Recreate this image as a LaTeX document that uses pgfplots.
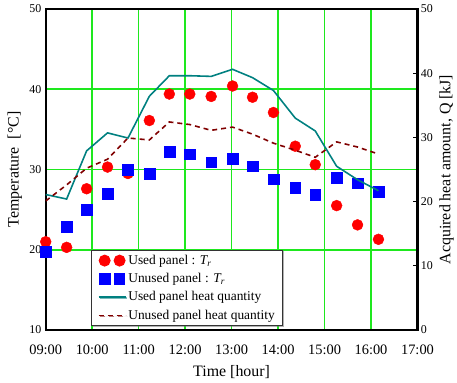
\documentclass[border=0pt]{standalone}
\usepackage{fontspec}
\setmainfont{Liberation Serif}
\usepackage{pgfplots}
\usepackage{pgfplotstable}
\pgfplotsset{compat=1.18}
\usetikzlibrary{shadows}
\definecolor{gridgreen}{RGB}{30,232,30}
\definecolor{tealline}{RGB}{0,128,128}
\definecolor{maroonline}{RGB}{128,0,0}

\pgfplotstableread{
t T
9.00 21.0
9.45 20.3
9.88 27.6
10.33 30.3
10.77 29.5
11.23 36.1
11.66 39.4
12.10 39.4
12.56 39.1
13.02 40.4
13.45 39.0
13.90 37.1
14.37 32.9
14.80 30.6
15.26 25.5
15.71 23.1
16.16 21.3
}\usedT

\pgfplotstableread{
t T
9.00 19.8
9.45 22.9
9.88 25.0
10.33 27.0
10.77 30.0
11.23 29.5
11.66 32.2
12.10 31.9
12.56 30.9
13.02 31.3
13.45 30.4
13.90 28.8
14.37 27.7
14.80 26.9
15.26 29.0
15.71 28.3
16.16 27.2
}\unusedT

\pgfplotstableread{
t Q
9.00 21.1
9.45 20.4
9.88 27.9
10.33 30.7
10.77 29.9
11.23 36.4
11.66 39.6
12.10 39.6
12.56 39.5
13.02 40.6
13.45 39.3
13.90 37.3
14.37 33.0
14.80 31.0
15.26 25.5
15.71 23.4
16.16 21.7
}\usedQ

\pgfplotstableread{
t Q
9.00 20.1
9.45 22.6
9.88 25.2
10.33 26.6
10.77 29.9
11.23 29.6
11.66 32.4
12.10 32.0
12.56 31.1
13.02 31.6
13.45 30.5
13.90 29.1
14.37 28.0
14.80 26.9
15.26 29.3
15.71 28.5
16.16 27.4
}\unusedQ

\pgfplotsset{
  common/.style={
    scale only axis, width=374bp, height=323bp,
    xmin=9, xmax=17,
    /pgf/number format/assume math mode=true,
    yticklabel style={font=\fontsize{12bp}{14bp}\selectfont},
    label style={font=\fontsize{16bp}{18bp}\selectfont},
  },
  marklegend/.style={legend image code/.code={\draw[##1] plot coordinates {(6bp,0bp) (21bp,0bp)};}},
  linelegend/.style={legend image code/.code={\draw[##1] (0bp,0bp) -- (27bp,0bp);}},
}

\begin{document}
\begin{tikzpicture}
\begin{axis}[
  common,
  name=ax,
  ymin=10, ymax=50,
  xtick={9,10,...,17},
  xticklabels={09:00,10:00,11:00,12:00,13:00,14:00,15:00,16:00,17:00},
  xticklabel style={font=\fontsize{14.5bp}{16bp}\selectfont, anchor=center, yshift=-20bp},
  ytick={10,20,...,50},
  tick pos=left,
  major tick length=0pt,
  grid=major, grid style={gridgreen, line width=1.5pt},
  axis line style={line width=2.2pt},
  xlabel={Time [hour]},
  xlabel style={at={(axis description cs:0.5,-0.13)}, anchor=center},
  ylabel={Temperature\ \ [°C]},
  ylabel style={at={(axis description cs:-0.083,0.5)}, anchor=center},
  yticklabel style={xshift=-1bp},
]
\addplot[only marks, mark=*, color=red, mark size=5.5bp] table[x=t, y=T] {\usedT};
\addplot[only marks, mark=square*, color=blue, mark size=5.4bp] table[x=t, y=T] {\unusedT};
\end{axis}
\begin{axis}[
  common,
  ymin=0, ymax=50,
  ytick={0,10,...,50},
  axis y line*=right,
  axis x line=none,
  tick align=inside,
  major tick length=5bp,
  major tick style={line width=0.8pt, black},
  axis line style={line width=2.2pt},
  ylabel={Acquired heat amount, Q [kJ]},
  ylabel style={at={(axis description cs:1.078,0.5)}, anchor=center},
  legend style={at={(0.123,0.012)}, anchor=south west,
    draw=black!80, line width=1pt, fill=white,
    drop shadow={shadow xshift=1.2bp, shadow yshift=-1.2bp, fill=black!60},
    font=\fontsize{13.5bp}{15bp}\selectfont,
    row sep=3.5bp, inner xsep=6bp, inner ysep=3bp},
  legend cell align=left,
]
\addlegendimage{only marks, mark=*, color=red, mark size=5.5bp, marklegend}
\addlegendentry{Used panel : \textit{T\textsubscript{r}}}
\addlegendimage{only marks, mark=square*, color=blue, mark size=5.4bp, marklegend}
\addlegendentry{Unused panel : \textit{T\textsubscript{r}}}
\addplot[color=tealline, line width=1.6pt, linelegend] table[x=t, y=Q] {\usedQ};
\addlegendentry{Used panel heat quantity}
\addplot[color=maroonline, line width=1.6pt, dash pattern=on 5bp off 4bp, linelegend] table[x=t, y=Q] {\unusedQ};
\addlegendentry{Unused panel heat quantity}
\end{axis}
\path ([xshift=-46bp,yshift=-53bp]ax.south west) rectangle ([xshift=37bp,yshift=9bp]ax.north east);
\end{tikzpicture}
\end{document}
